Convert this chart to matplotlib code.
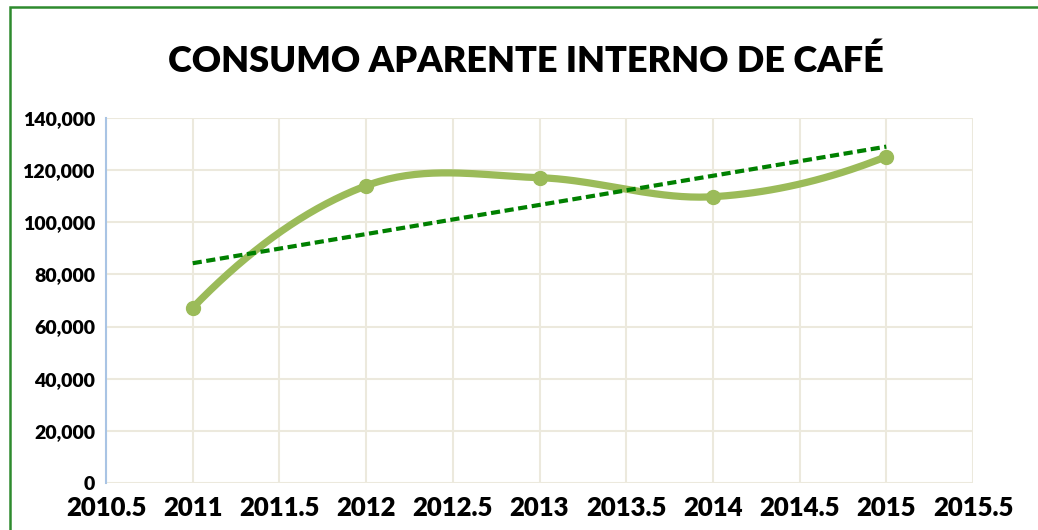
import matplotlib
matplotlib.use("Agg")
import matplotlib.pyplot as plt
import numpy as np
from matplotlib.ticker import FuncFormatter, MultipleLocator
from matplotlib.patches import Rectangle

years = [2011, 2012, 2013, 2014, 2015]
consumo = [67200, 114000, 117100, 109800, 125200]

plt.rcParams['font.family'] = ['Lato', 'DejaVu Sans']
plt.rcParams['font.weight'] = 'heavy'

fig = plt.figure(figsize=(10.38, 5.30), dpi=100)
ax = fig.add_axes([106/1038, 1-483/530, (973-106)/1038, (483-118)/530])

# frame of the chart object (goes past right / bottom edges)
fig.patches.append(Rectangle((10/1038, -0.05), 1.1, 1-7/530+0.05, transform=fig.transFigure,
                             fill=False, edgecolor='#2e8b2e', lw=1.8))


def smooth(xs, ys, n=40):
    # excel-like smoothed line: catmull-rom inside, free ends
    xs = np.asarray(xs, float)
    ys = np.asarray(ys, float)
    m = len(xs)
    my = np.zeros(m)
    for i in range(1, m-1):
        my[i] = (ys[i+1]-ys[i-1])/2
    my[0] = 2*(ys[1]-ys[0]) - my[1]
    my[-1] = 2*(ys[-1]-ys[-2]) - my[-2]
    outx, outy = [], []
    t = np.linspace(0, 1, n)
    h00 = 2*t**3-3*t**2+1
    h10 = t**3-2*t**2+t
    h01 = -2*t**3+3*t**2
    h11 = t**3-t**2
    for i in range(m-1):
        outx += list(xs[i] + t*(xs[i+1]-xs[i]))
        outy += list(h00*ys[i]+h10*my[i]+h01*ys[i+1]+h11*my[i+1])
    return outx, outy


sx, sy = smooth(years, consumo)
ax.plot(sx, sy, color='#9bbb59', lw=5.2, solid_capstyle='round', zorder=3)
ax.plot(years, consumo, 'o', color='#9bbb59', ms=10, zorder=4)

# linear trend line
k, b = np.polyfit(years, consumo, 1)
tx = np.array([years[0], years[-1]])
ax.plot(tx, k*tx+b, color='#008000', lw=3, ls=(0, (2.2, 1.1)), zorder=5)

ax.set_xlim(2010.5, 2015.5)
ax.set_ylim(0, 140000)
ax.xaxis.set_major_locator(MultipleLocator(0.5))
ax.yaxis.set_major_locator(MultipleLocator(20000))
ax.xaxis.set_major_formatter(FuncFormatter(lambda v, p: f"{v:g}"))
ax.yaxis.set_major_formatter(FuncFormatter(lambda v, p: f"{v:,.0f}"))
ax.grid(True, color='#ece9dd', lw=1.5)
ax.set_axisbelow(True)
for s in ['top', 'right', 'bottom']:
    ax.spines[s].set_visible(False)
ax.spines['left'].set_color('#a9c4e4')
ax.spines['left'].set_linewidth(1.5)
ax.tick_params(axis='y', length=0, labelsize=14, pad=8)
ax.tick_params(axis='x', length=0, labelsize=18.5, pad=9)
for lab in ax.get_xticklabels() + ax.get_yticklabels():
    lab.set_fontweight('heavy')

fig.text(0.507, 1-61/530, 'CONSUMO APARENTE INTERNO DE CAFÉ', ha='center', va='center',
         fontsize=26, fontweight='heavy')

fig.savefig('out.png', dpi=100)
